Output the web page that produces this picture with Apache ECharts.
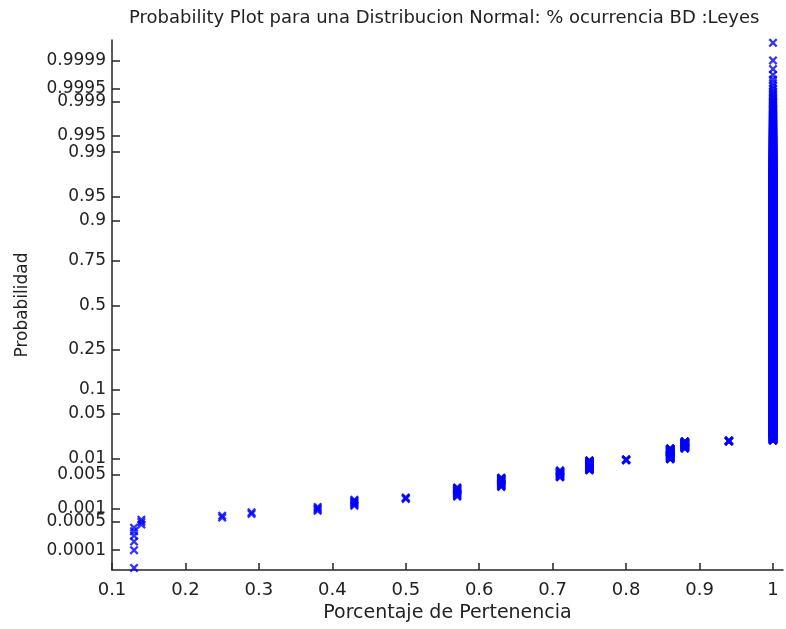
<!DOCTYPE html>
<html>
<head>
<meta charset="utf-8">
<script src="https://cdn.jsdelivr.net/npm/echarts@6.0.0/dist/echarts.min.js"></script>
<style>html,body{margin:0;padding:0;background:#fff;}#c{width:786px;height:629px;}</style>
</head>
<body>
<div id="c"></div>
<script>
// Distinct observed values (Porcentaje de Pertenencia) and how many observations each has
const values = [0.13, 0.14, 0.25, 0.29, 0.38, 0.43, 0.5, 0.57, 0.63, 0.71, 0.75, 0.8, 0.86, 0.88, 0.94, 1.0];
const counts = [6, 3, 2, 2, 4, 7, 3, 16, 24, 24, 48, 6, 78, 67, 10, 14700];
// Probability tick labels (normal probability scale)
const probTicks = [0.0001, 0.0005, 0.001, 0.005, 0.01, 0.05, 0.1, 0.25, 0.5, 0.75, 0.9, 0.95, 0.99, 0.995, 0.999, 0.9995, 0.9999];
const probLabels = ['0.0001','0.0005','0.001','0.005','0.01','0.05','0.1','0.25','0.5','0.75','0.9','0.95','0.99','0.995','0.999','0.9995','0.9999'];

// inverse standard normal CDF (Acklam)
function norminv(p){
  const a=[-3.969683028665376e+01,2.209460984245205e+02,-2.759285104469687e+02,1.383577518672690e+02,-3.066479806614716e+01,2.506628277459239e+00];
  const b=[-5.447609879822406e+01,1.615858368580409e+02,-1.556989798598866e+02,6.680131188771972e+01,-1.328068155288572e+01];
  const c=[-7.784894002430293e-03,-3.223964580411365e-01,-2.400758277161838e+00,-2.549732539343734e+00,4.374664141464968e+00,2.938163982698783e+00];
  const d=[7.784695709041462e-03,3.224671290700398e-01,2.445134137142996e+00,3.754408661907416e+00];
  const pl=0.02425, ph=1-pl;
  let q, r;
  if(p<pl){ q=Math.sqrt(-2*Math.log(p)); return (((((c[0]*q+c[1])*q+c[2])*q+c[3])*q+c[4])*q+c[5])/((((d[0]*q+d[1])*q+d[2])*q+d[3])*q+1); }
  if(p<=ph){ q=p-0.5; r=q*q; return (((((a[0]*r+a[1])*r+a[2])*r+a[3])*r+a[4])*r+a[5])*q/(((((b[0]*r+b[1])*r+b[2])*r+b[3])*r+b[4])*r+1); }
  q=Math.sqrt(-2*Math.log(1-p)); return -(((((c[0]*q+c[1])*q+c[2])*q+c[3])*q+c[4])*q+c[5])/((((d[0]*q+d[1])*q+d[2])*q+d[3])*q+1);
}

// normal probability plot positions: sorted data, p_i = (i-0.5)/n
const n = counts.reduce((s,v)=>s+v,0);
const points = [];
let rank = 0;
for(let k=0;k<values.length;k++){
  for(let j=0;j<counts[k];j++){
    rank++;
    points.push([values[k], norminv((rank-0.5)/n)]);
  }
}
const tickZ = probTicks.map(norminv);

const chart = echarts.init(document.getElementById('c'), null, {renderer:'canvas'});
const axisCol = '#262626';
const base = {
  animation:false,
  backgroundColor:'#fff',
  title:{
    text:'Probability Plot para una Distribucion Normal: % ocurrencia BD :Leyes',
    left:129, top:9, padding:0,
    textStyle:{fontFamily:'DejaVu Sans', fontSize:18, fontWeight:'normal', color:'#222'}
  },
  grid:{left:112, right:3, top:40, bottom:59},
  xAxis:{
    type:'value', min:0.1, max:1.0136, interval:0.1,
    name:'Porcentaje de Pertenencia', nameLocation:'middle', nameGap:31,
    nameTextStyle:{fontFamily:'DejaVu Sans', fontSize:19, color:'#222'},
    axisLine:{show:true, onZero:false, lineStyle:{color:axisCol, width:1.5}},
    axisTick:{show:true, inside:true, length:7, lineStyle:{color:axisCol, width:1.5}},
    axisLabel:{showMaxLabel:false, margin:11, fontFamily:'DejaVu Sans', fontSize:18, color:'#222'},
    splitLine:{show:false}
  },
  yAxis:{
    type:'value', min:-4.02, max:4.03,
    name:'Probabilidad', nameLocation:'middle', nameGap:81,
    nameTextStyle:{fontFamily:'DejaVu Sans', fontSize:17, color:'#222'},
    axisLine:{show:true, onZero:false, lineStyle:{color:axisCol, width:1.5}},
    axisTick:{show:true, inside:true, length:8, customValues:tickZ, lineStyle:{color:axisCol, width:1.5}},
    axisLabel:{customValues:tickZ, margin:6, fontFamily:'DejaVu Sans', fontSize:17, color:'#222',
      formatter:function(v){let bi=0,bd=1e9; for(let i=0;i<tickZ.length;i++){const dd=Math.abs(tickZ[i]-v); if(dd<bd){bd=dd;bi=i;}} return probLabels[bi];}},
    splitLine:{show:false}
  },
  series:[]
};
chart.setOption(base);
window.addEventListener('load', function(){
  setTimeout(function(){
    chart.setOption({
      series:[{
        type:'scatter',
        data:points,
        symbol:'path://M0,1.8 L1.8,0 L5,3.2 L8.2,0 L10,1.8 L6.8,5 L10,8.2 L8.2,10 L5,6.8 L1.8,10 L0,8.2 L3.2,5 Z',
        symbolSize:9,
        itemStyle:{color:'#0000ff'},
        large:false, progressive:0, silent:true
      }]
    });
  }, 20);
});
</script>
</body>
</html>
